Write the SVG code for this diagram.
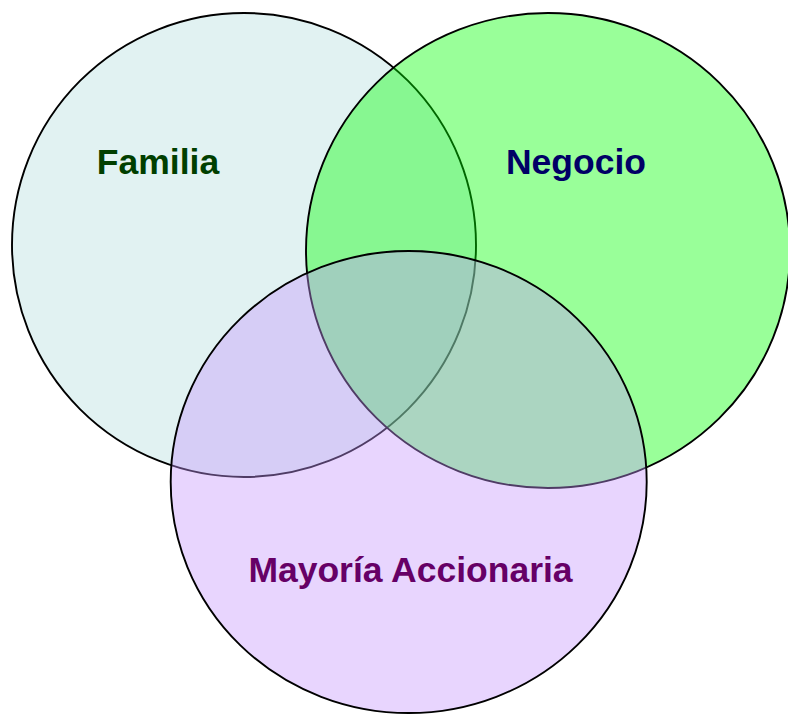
<svg xmlns="http://www.w3.org/2000/svg" width="788" height="714" viewBox="0 0 788 714">
  <style>
    .set { stroke: #000000; stroke-width: 1.9; }
    .label { font-family: "Liberation Sans", Arial, sans-serif; font-weight: bold; font-size: 35.5px; text-anchor: middle; }
  </style>
  <rect x="0" y="0" width="788" height="714" fill="#ffffff"/>
  <g id="familia">
    <ellipse class="set" cx="244" cy="245" rx="232" ry="232" fill="#E1F2F2"/>
  </g>
  <g id="negocio">
    <ellipse class="set" cx="548" cy="250.5" rx="242" ry="237.5" fill="#00FF00" fill-opacity="0.4"/>
  </g>
  <g id="mayoria">
    <ellipse class="set" cx="408.7" cy="482" rx="238" ry="231" fill="#C696FC" fill-opacity="0.4"/>
  </g>
  <g id="connectors"></g>
  <g id="labels">
    <text class="label" x="158" y="174" fill="#003F00">Familia</text>
    <text class="label" x="576" y="174" fill="#000066">Negocio</text>
    <text class="label" x="410.5" y="582" fill="#660066">Mayoría Accionaria</text>
  </g>
</svg>
